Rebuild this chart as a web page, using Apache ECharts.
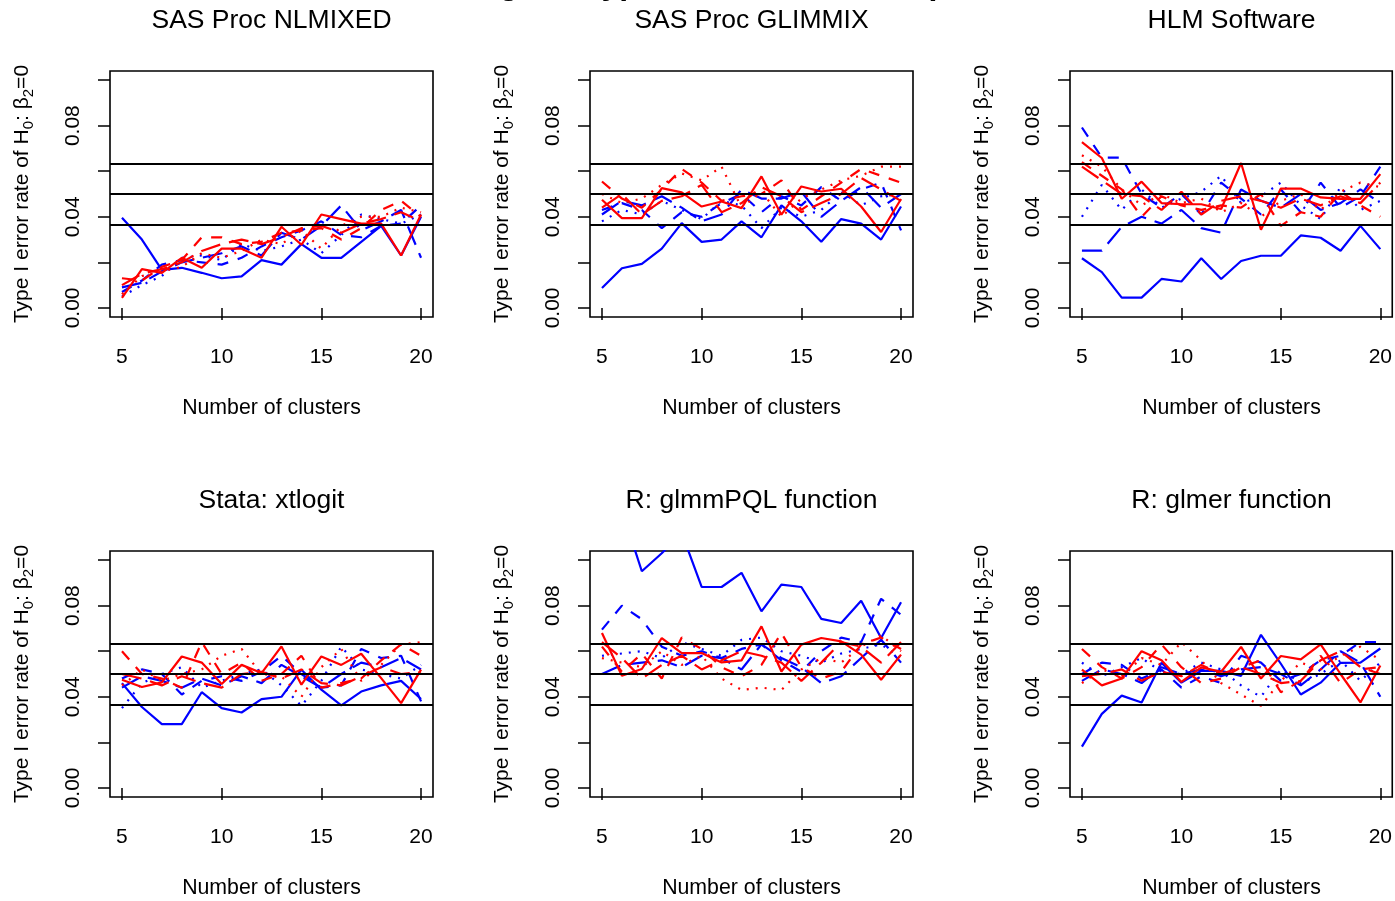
<!DOCTYPE html>
<html><head><meta charset="utf-8">
<script src="https://cdn.jsdelivr.net/npm/echarts@6/dist/echarts.min.js"></script>
<style>html,body{margin:0;padding:0;background:#fff}#c{width:1395px;height:901px}</style>
</head><body><div id="c"></div>
<script>
// ---------------- data ----------------
const clusters = [5,6,7,8,9,10,11,12,13,14,15,16,17,18,19,20];
const panelTitles = ['SAS Proc NLMIXED','SAS Proc GLIMMIX','HLM Software','Stata: xtlogit','R: glmmPQL function','R: glmer function'];
const xTicks = [5,10,15,20];
const yTicks = [0,0.02,0.04,0.06,0.08,0.10];
const yTickLabels = [0,0.04,0.08];
const refLines = [0.0365,0.05,0.0635];
const mainTitle = 'Estimating the Type I error rate of H';
const xAxisTitle = 'Number of clusters';

// each: [solid, dashed, dotted, longdash]
const nlmixedBlue = [
 [0.0396,0.030,0.0167,0.0176,0.0154,0.013,0.0138,0.021,0.019,0.028,0.022,0.022,0.029,0.036,0.023,0.040],
 [0.007,0.012,0.019,0.021,0.020,0.019,0.022,0.027,0.031,0.034,0.038,0.032,0.031,0.036,0.037,0.045],
 [0.005,0.010,0.014,0.022,0.023,0.021,0.028,0.025,0.027,0.030,0.024,0.032,0.041,0.039,0.037,0.041],
 [0.009,0.011,0.016,0.020,0.022,0.024,0.027,0.023,0.033,0.030,0.036,0.045,0.034,0.038,0.043,0.022]];
const nlmixedRed = [
 [0.0044,0.017,0.0154,0.022,0.0176,0.026,0.026,0.022,0.0356,0.0277,0.041,0.039,0.037,0.037,0.023,0.041],
 [0.013,0.012,0.018,0.021,0.031,0.031,0.028,0.029,0.033,0.034,0.035,0.030,0.035,0.043,0.047,0.040],
 [0.006,0.014,0.016,0.018,0.024,0.022,0.025,0.030,0.028,0.034,0.026,0.036,0.040,0.040,0.044,0.042],
 [0.010,0.015,0.017,0.020,0.025,0.028,0.030,0.028,0.031,0.035,0.036,0.033,0.037,0.039,0.042,0.038]];
const glimmixBlue = [
 [0.0087,0.0174,0.0193,0.026,0.0372,0.029,0.030,0.038,0.031,0.045,0.038,0.029,0.039,0.037,0.030,0.0445],
 [0.043,0.046,0.043,0.035,0.042,0.040,0.046,0.050,0.042,0.049,0.045,0.053,0.047,0.052,0.055,0.034],
 [0.038,0.043,0.041,0.047,0.043,0.039,0.047,0.045,0.035,0.044,0.040,0.043,0.051,0.045,0.049,0.050],
 [0.041,0.047,0.045,0.049,0.044,0.038,0.041,0.052,0.048,0.048,0.051,0.040,0.047,0.053,0.044,0.050]];
const glimmixRed = [
 [0.0475,0.0394,0.0394,0.0526,0.0507,0.0445,0.0467,0.0438,0.0577,0.0409,0.0533,0.0511,0.0523,0.0445,0.0333,0.0478],
 [0.0555,0.048,0.044,0.052,0.061,0.055,0.047,0.049,0.050,0.056,0.043,0.049,0.055,0.061,0.058,0.055],
 [0.050,0.046,0.048,0.054,0.059,0.056,0.062,0.044,0.051,0.040,0.048,0.052,0.056,0.058,0.062,0.062],
 [0.044,0.050,0.041,0.047,0.049,0.054,0.042,0.046,0.053,0.049,0.042,0.046,0.050,0.057,0.052,0.047]];
const hlmBlue = [
 [0.0218,0.0157,0.0045,0.0045,0.0127,0.0116,0.0218,0.0127,0.0206,0.0229,0.0229,0.0318,0.0308,0.0251,0.036,0.0258],
 [0.0792,0.066,0.066,0.050,0.044,0.050,0.041,0.055,0.048,0.041,0.052,0.042,0.055,0.044,0.049,0.062],
 [0.040,0.054,0.043,0.052,0.044,0.048,0.051,0.058,0.046,0.049,0.055,0.045,0.039,0.053,0.043,0.047],
 [0.0251,0.0251,0.0356,0.040,0.037,0.043,0.035,0.033,0.052,0.047,0.044,0.050,0.043,0.046,0.052,0.046]];
const hlmRed = [
 [0.0728,0.0658,0.0479,0.0554,0.046,0.0455,0.0455,0.0434,0.0636,0.0343,0.0524,0.0524,0.0485,0.0479,0.0479,0.0587],
 [0.064,0.058,0.052,0.040,0.049,0.045,0.043,0.045,0.044,0.050,0.036,0.042,0.040,0.051,0.045,0.040],
 [0.067,0.062,0.052,0.045,0.050,0.046,0.048,0.042,0.046,0.040,0.047,0.050,0.043,0.051,0.055,0.053],
 [0.062,0.056,0.050,0.049,0.043,0.051,0.041,0.047,0.049,0.047,0.044,0.048,0.045,0.049,0.046,0.055]];
const stataBlue = [
 [0.046,0.0355,0.028,0.028,0.042,0.035,0.0331,0.039,0.040,0.0519,0.0431,0.0362,0.0423,0.045,0.047,0.039],
 [0.048,0.052,0.050,0.041,0.047,0.049,0.047,0.051,0.058,0.050,0.044,0.045,0.061,0.057,0.058,0.038],
 [0.035,0.046,0.050,0.053,0.044,0.047,0.050,0.052,0.045,0.036,0.047,0.062,0.052,0.050,0.048,0.054],
 [0.044,0.049,0.047,0.044,0.048,0.045,0.049,0.046,0.054,0.049,0.044,0.050,0.055,0.053,0.057,0.052]];
const stataRed = [
 [0.0475,0.0443,0.0463,0.0577,0.055,0.0456,0.054,0.0504,0.0621,0.0453,0.0577,0.054,0.0589,0.0482,0.0372,0.0519],
 [0.060,0.050,0.048,0.044,0.064,0.050,0.055,0.047,0.050,0.058,0.044,0.046,0.048,0.056,0.063,0.058],
 [0.045,0.052,0.047,0.050,0.052,0.058,0.061,0.050,0.049,0.040,0.053,0.061,0.047,0.054,0.063,0.064],
 [0.050,0.048,0.045,0.049,0.046,0.044,0.050,0.051,0.048,0.052,0.046,0.045,0.049,0.053,0.050,0.051]];
const pqlBlue = [
 [0.118,0.122,0.0951,0.103,0.112,0.0882,0.0882,0.0944,0.0775,0.0892,0.0882,0.0742,0.0724,0.0822,0.0658,0.0815],
 [0.0695,0.080,0.074,0.062,0.058,0.060,0.057,0.061,0.063,0.056,0.051,0.060,0.066,0.064,0.083,0.076],
 [0.058,0.059,0.060,0.057,0.064,0.061,0.058,0.065,0.066,0.060,0.058,0.055,0.059,0.061,0.063,0.057],
 [0.050,0.054,0.055,0.056,0.053,0.058,0.057,0.052,0.063,0.057,0.053,0.046,0.049,0.057,0.065,0.055]];
const pqlRed = [
 [0.068,0.0492,0.0522,0.0658,0.0592,0.0592,0.0551,0.056,0.0709,0.0511,0.0629,0.0658,0.0643,0.0585,0.0475,0.0585],
 [0.062,0.051,0.059,0.048,0.066,0.061,0.053,0.049,0.054,0.068,0.053,0.048,0.051,0.063,0.066,0.061],
 [0.057,0.055,0.053,0.060,0.054,0.058,0.048,0.043,0.044,0.043,0.052,0.057,0.055,0.062,0.067,0.060],
 [0.064,0.057,0.048,0.054,0.058,0.052,0.056,0.060,0.058,0.055,0.047,0.055,0.064,0.062,0.055,0.064]];
const glmerBlue = [
 [0.0181,0.0325,0.0405,0.0375,0.0549,0.0462,0.0514,0.0514,0.0492,0.0672,0.0545,0.041,0.0462,0.0549,0.055,0.0612],
 [0.050,0.055,0.054,0.048,0.052,0.044,0.049,0.046,0.058,0.055,0.047,0.050,0.056,0.058,0.064,0.064],
 [0.055,0.049,0.053,0.057,0.051,0.050,0.055,0.052,0.045,0.040,0.052,0.046,0.050,0.056,0.047,0.055],
 [0.047,0.052,0.050,0.046,0.053,0.050,0.052,0.049,0.052,0.053,0.050,0.045,0.052,0.060,0.055,0.040]];
const glmerRed = [
 [0.0519,0.045,0.048,0.06,0.056,0.0465,0.0529,0.051,0.0619,0.048,0.0579,0.0564,0.063,0.050,0.0375,0.0537],
 [0.061,0.053,0.048,0.053,0.063,0.053,0.046,0.048,0.053,0.056,0.042,0.047,0.058,0.046,0.052,0.053],
 [0.046,0.052,0.049,0.057,0.054,0.064,0.056,0.046,0.041,0.036,0.047,0.055,0.052,0.058,0.062,0.056],
 [0.049,0.050,0.052,0.047,0.051,0.049,0.054,0.050,0.053,0.050,0.046,0.047,0.056,0.060,0.053,0.050]];

// ---------------- layout ----------------
const panels = [
  {blue: nlmixedBlue, red: nlmixedRed},
  {blue: glimmixBlue, red: glimmixRed},
  {blue: hlmBlue, red: hlmRed},
  {blue: stataBlue, red: stataRed},
  {blue: pqlBlue, red: pqlRed},
  {blue: glmerBlue, red: glmerRed}
];
const colLeft = [110, 590, 1070];
const rowTop = [71, 551];
const GW = 323, GH = 246;
const FONT = '"Liberation Sans", Arial, Helvetica, sans-serif';
const dashTypes = ['solid', [11, 10], [2, 7], [20, 9]];

const grids = [], xAxes = [], yAxes = [], series = [], graphics = [];

panels.forEach((p, i) => {
  const c = i % 3, r = Math.floor(i / 3);
  const L = colLeft[c], T = rowTop[r];
  grids.push({left: L, top: T, width: GW, height: GH, show: true, borderColor: '#000', borderWidth: 1.6, backgroundColor: 'transparent'});
  xAxes.push({
    type: 'value', gridIndex: i, min: 4.4, max: 20.6,
    axisLine: {show: false},
    axisTick: {show: true, length: 12, inside: false, customValues: xTicks, lineStyle: {color: '#000', width: 1.5}},
    axisLabel: {show: true, customValues: xTicks, margin: 30, fontSize: 21, lineHeight: 21, color: '#000', fontFamily: FONT},
    splitLine: {show: false}
  });
  yAxes.push({
    type: 'value', gridIndex: i, min: -0.004, max: 0.104,
    axisLine: {show: false},
    axisTick: {show: true, length: 12, inside: false, customValues: yTicks, lineStyle: {color: '#000', width: 1.5}},
    axisLabel: {show: true, customValues: yTickLabels, rotate: 90, margin: 26, fontSize: 21, lineHeight: 21, color: '#000', fontFamily: FONT,
      formatter: v => v.toFixed(2)},
    splitLine: {show: false}
  });
  const addSet = (sets, color) => sets.forEach((vals, k) => {
    series.push({
      type: 'line', xAxisIndex: i, yAxisIndex: i, showSymbol: false, symbol: 'none', clip: true,
      data: clusters.map((x, j) => [x, vals[j]]),
      lineStyle: {color: color, width: 2.2, type: dashTypes[k]},
      silent: true, animation: false
    });
  });
  addSet(p.blue, '#0000FF');
  addSet(p.red, '#FF0000');
  series.push({
    type: 'line', xAxisIndex: i, yAxisIndex: i, data: [], silent: true, animation: false,
    markLine: {silent: true, precision: 5, symbol: ['none', 'none'], label: {show: false}, animation: false,
      lineStyle: {color: '#000', width: 2, type: 'solid'},
      data: refLines.map(v => ({yAxis: v}))}
  });
  // panel title
  graphics.push({type: 'text', x: L + GW / 2, y: T - 50, style: {text: panelTitles[i], fontSize: 26.5, fontFamily: FONT, fill: '#000', align: 'center', verticalAlign: 'middle', textAlign: 'center', textVerticalAlign: 'middle'}});
  // x axis title
  graphics.push({type: 'text', x: L + GW / 2, y: T + 337, style: {text: xAxisTitle, fontSize: 21.3, fontFamily: FONT, fill: '#000', align: 'center', verticalAlign: 'middle', textAlign: 'center', textVerticalAlign: 'middle'}});
  // y axis title
  graphics.push({type: 'text', x: L - 88, y: T + GH / 2, rotation: Math.PI / 2,
    style: {text: '{m|Type I error rate of H}{s|0}{m|: β}{s|2}{m|=0}', fill: '#000', align: 'center', verticalAlign: 'middle', textAlign: 'center', textVerticalAlign: 'middle',
      rich: {m: {fontSize: 21, fontFamily: FONT, lineHeight: 28, fill: '#000'}, s: {fontSize: 15, fontFamily: FONT, lineHeight: 14, verticalAlign: 'bottom', fill: '#000'}}}});
});

// outer main title (mostly outside the visible page, as in the reference)
graphics.push({type: 'text', x: 355, y: -35,
  style: {text: '{m|' + mainTitle + '}{s|0}{m|: β}{s|2}{m|=0}', fill: '#000', align: 'left', verticalAlign: 'top', textAlign: 'left', textVerticalAlign: 'top',
    rich: {m: {fontSize: 32, fontWeight: 'bold', fontFamily: FONT, lineHeight: 40, fill: '#000'}, s: {fontSize: 22, fontWeight: 'bold', fontFamily: FONT, lineHeight: 22, verticalAlign: 'bottom', fill: '#000'}}}});

const chart = echarts.init(document.getElementById('c'), null, {renderer: 'canvas'});
chart.setOption({
  animation: false,
  backgroundColor: '#fff',
  grid: grids, xAxis: xAxes, yAxis: yAxes, series: series, graphic: graphics
});
</script></body></html>
